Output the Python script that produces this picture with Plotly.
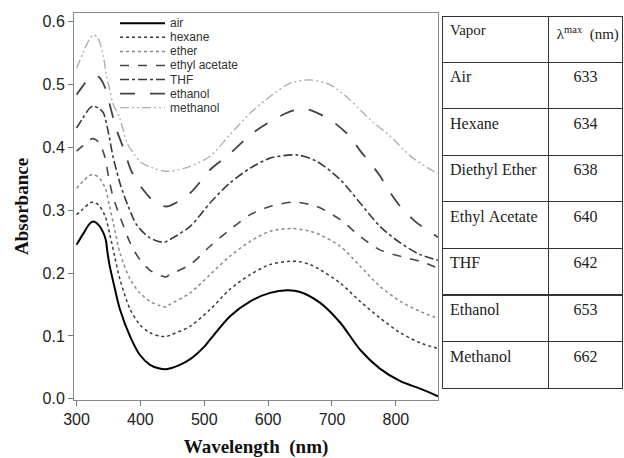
import plotly.graph_objects as go

# ---------------- data ----------------
air_wl = [300, 310, 320, 326, 335, 342, 346, 348, 352, 360, 368, 384, 399, 415, 430, 440, 460, 478, 500, 509, 540, 572, 603, 630, 650, 681, 713, 744, 775, 807, 838, 866]
air_ab = [0.245, 0.262, 0.278, 0.282, 0.276, 0.264, 0.252, 0.236, 0.211, 0.175, 0.142, 0.099, 0.070, 0.054, 0.048, 0.047, 0.053, 0.063, 0.083, 0.094, 0.131, 0.155, 0.1685, 0.1725, 0.170, 0.153, 0.121, 0.078, 0.048, 0.028, 0.016, 0.004]

hex_wl = [300, 310, 320, 326, 335, 345, 352, 360, 368, 384, 399, 415, 431, 440, 446, 478, 509, 540, 572, 603, 634, 650, 666, 681, 713, 744, 775, 807, 838, 866]
hex_ab = [0.293, 0.302, 0.311, 0.313, 0.308, 0.290, 0.262, 0.225, 0.190, 0.142, 0.118, 0.105, 0.0995, 0.099, 0.101, 0.1155, 0.142, 0.174, 0.1976, 0.2135, 0.219, 0.218, 0.2135, 0.2056, 0.184, 0.155, 0.1287, 0.105, 0.089, 0.080]

eth_wl = [300, 310, 320, 326, 335, 345, 352, 360, 368, 384, 399, 415, 431, 440, 446, 478, 509, 540, 572, 603, 638, 666, 681, 713, 744, 775, 807, 838, 866]
eth_ab = [0.335, 0.346, 0.355, 0.357, 0.352, 0.335, 0.305, 0.268, 0.232, 0.190, 0.1685, 0.155, 0.148, 0.146, 0.150, 0.1685, 0.1976, 0.2267, 0.2506, 0.2665, 0.271, 0.2665, 0.261, 0.2427, 0.211, 0.179, 0.155, 0.139, 0.128]

ea_wl = [300, 310, 320, 326, 335, 344, 350, 357, 368, 384, 399, 415, 431, 440, 446, 478, 509, 540, 572, 603, 640, 676, 713, 744, 775, 807, 838, 866]
ea_ab = [0.394, 0.403, 0.412, 0.414, 0.408, 0.386, 0.354, 0.322, 0.290, 0.248, 0.2215, 0.2045, 0.196, 0.194, 0.1976, 0.2135, 0.2427, 0.269, 0.293, 0.306, 0.313, 0.306, 0.285, 0.2585, 0.237, 0.2267, 0.2188, 0.208]

thf_wl = [300, 310, 320, 326, 335, 342, 350, 357, 368, 381, 394, 415, 437, 446, 478, 509, 540, 572, 603, 645, 676, 713, 744, 775, 807, 838, 866]
thf_ab = [0.431, 0.447, 0.462, 0.466, 0.462, 0.455, 0.423, 0.386, 0.343, 0.306, 0.277, 0.256, 0.249, 0.2533, 0.2745, 0.3116, 0.3434, 0.367, 0.383, 0.388, 0.378, 0.3487, 0.3116, 0.2745, 0.248, 0.2294, 0.2204]

etoh_wl = [300, 310, 320, 326, 335, 344, 352, 362, 373, 386, 399, 420, 441, 478, 509, 540, 572, 603, 634, 660, 697, 728, 744, 760, 775, 790, 807, 833, 850, 866]
etoh_ab = [0.484, 0.498, 0.511, 0.514, 0.512, 0.497, 0.468, 0.430, 0.400, 0.362, 0.340, 0.315, 0.306, 0.3275, 0.3645, 0.390, 0.420, 0.441, 0.457, 0.461, 0.444, 0.4175, 0.395, 0.375, 0.355, 0.330, 0.306, 0.280, 0.268, 0.257]

meoh_wl = [300, 310, 320, 326, 333, 342, 347, 352, 357, 368, 380, 390, 400, 420, 435, 446, 478, 509, 540, 572, 603, 634, 666, 697, 728, 760, 791, 822, 854, 866]
meoh_ab = [0.526, 0.550, 0.572, 0.579, 0.575, 0.545, 0.513, 0.492, 0.470, 0.445, 0.405, 0.390, 0.377, 0.367, 0.363, 0.362, 0.370, 0.386, 0.420, 0.4547, 0.481, 0.502, 0.5076, 0.4997, 0.476, 0.444, 0.418, 0.387, 0.365, 0.359]

series_names = ["air", "hexane", "ether", "ethyl acetate", "THF", "ethanol", "methanol"]
series_x = [air_wl, hex_wl, eth_wl, ea_wl, thf_wl, etoh_wl, meoh_wl]
series_y = [air_ab, hex_ab, eth_ab, ea_ab, thf_ab, etoh_ab, meoh_ab]
series_color = ["#000000", "#3a3a3a", "#8a8a8a", "#474747", "#3a3a3a", "#444444", "#b0b0b0"]
series_dash = ["solid", "dot", "dot", "dash", "dashdot", "longdash", "9px,3px,2px,3px,2px,3px"]
series_width = [2, 1.5, 1.5, 1.6, 1.6, 1.8, 1.4]

table_vapor = ["Air", "Hexane", "Diethyl Ether", "Ethyl Acetate", "THF", "Ethanol", "Methanol"]
table_lmax = [633, 634, 638, 640, 642, 653, 662]
table_header = ["Vapor", "λ<sup>max</sup>  (nm)"]

x_ticks = [300, 400, 500, 600, 700, 800]
y_ticks = [0.0, 0.1, 0.2, 0.3, 0.4, 0.5, 0.6]

# ---------------- figure ----------------
W, H = 624, 458
ML, MR, MT, MB = 74, 1, 13, 58
pw = W - ML - MR
ph = H - MT - MB
plot_right_px = 438
table_left_px = 442
table_top_px = 16

def nowrap(s):
    return str(s).replace(" ", "\u00a0")

fig = go.Figure()
for name, xs, ys, c, d, w in zip(series_names, series_x, series_y, series_color, series_dash, series_width):
    fig.add_trace(go.Scatter(x=xs, y=ys, mode="lines", name=name,
                             line=dict(color=c, dash=d, width=w, shape="spline", smoothing=0.8),
                             showlegend=False))

# manual compact legend (top-left inside plot)
for i, (name, c, d, w) in enumerate(zip(series_names, series_color, series_dash, series_width)):
    ypx = 23.3 + i * 14.06
    yp = (H - MB - ypx) / ph
    fig.add_shape(type="line", xref="paper", yref="paper",
                  x0=(120 - ML) / pw, x1=(165 - ML) / pw, y0=yp, y1=yp,
                  line=dict(color=c, dash=d, width=w))
    fig.add_annotation(xref="paper", yref="paper", x=(168 - ML) / pw, y=yp,
                       text=name, showarrow=False, xanchor="left", yanchor="middle",
                       font=dict(family="Liberation Sans", size=12, color="#333333"))

fig.add_trace(go.Table(
    domain=dict(x=[(table_left_px - ML) / pw, 1.0], y=[0.0, (H - MB - table_top_px) / ph]),
    columnwidth=[108, 74],
    header=dict(values=[nowrap(h) for h in table_header],
                align=["left", "left"], height=46,
                fill=dict(color="white"),
                line=dict(color="#333333", width=1),
                font=dict(family="Liberation Serif", size=15, color="#222222")),
    cells=dict(values=[[nowrap(v) for v in table_vapor], table_lmax],
               align=["left", "center"], height=46.6,
               fill=dict(color="white"),
               line=dict(color="#333333", width=1),
               font=dict(family="Liberation Serif", size=16, color="#222222")),
))

fig.update_layout(
    width=W, height=H,
    margin=dict(l=ML, r=MR, t=MT, b=MB),
    paper_bgcolor="white", plot_bgcolor="white",
    showlegend=False,
)
fig.update_xaxes(domain=[0, (plot_right_px - ML) / pw],
                 range=[296, 866], tickvals=x_ticks, ticks="outside", ticklen=5,
                 tickcolor="#777777", showline=True, linecolor="#888888", linewidth=1,
                 mirror=True, showgrid=False, zeroline=False,
                 tickfont=dict(family="Liberation Sans", size=16, color="#222222"),
                 title=dict(text="<b>Wavelength  (nm)</b>", standoff=16,
                            font=dict(family="Liberation Serif", size=19, color="#111111")))
fig.update_yaxes(range=[-0.002, 0.614], tickvals=y_ticks, tickformat=".1f", ticks="outside",
                 ticklen=5, tickcolor="#777777", showline=True, linecolor="#888888",
                 linewidth=1, mirror=True, showgrid=False, zeroline=False,
                 tickfont=dict(family="Liberation Sans", size=16, color="#222222"),
                 title=dict(text="<b>Absorbance</b>", standoff=8,
                            font=dict(family="Liberation Serif", size=19, color="#111111")))

fig.write_html("out.html")
